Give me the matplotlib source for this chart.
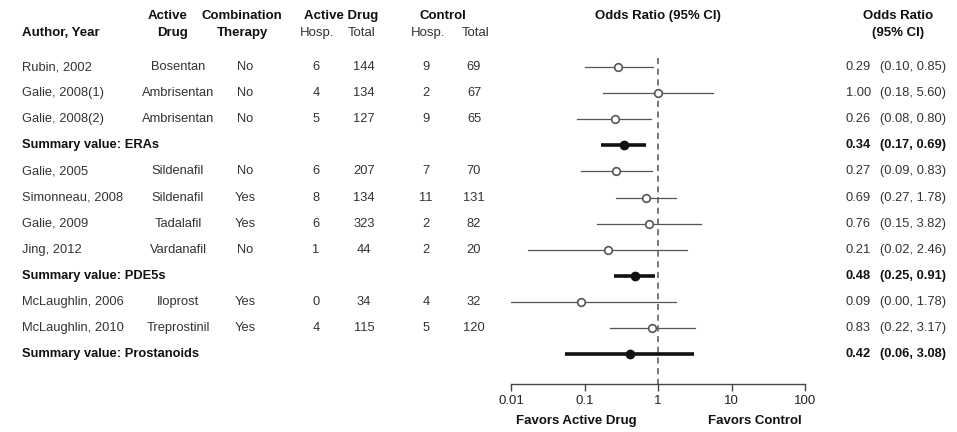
import matplotlib
matplotlib.use("Agg")
import matplotlib.pyplot as plt
from matplotlib.transforms import blended_transform_factory

plt.rcParams["font.family"] = ["Liberation Sans", "DejaVu Sans"]

# --- data ---
studies = ["Rubin, 2002", "Galie, 2008(1)", "Galie, 2008(2)", "Summary value: ERAs",
           "Galie, 2005", "Simonneau, 2008", "Galie, 2009", "Jing, 2012",
           "Summary value: PDE5s", "McLaughlin, 2006", "McLaughlin, 2010",
           "Summary value: Prostanoids"]
is_summary = [False, False, False, True, False, False, False, False, True, False, False, True]
drugs = ["Bosentan", "Ambrisentan", "Ambrisentan", "", "Sildenafil", "Sildenafil",
         "Tadalafil", "Vardanafil", "", "Iloprost", "Treprostinil", ""]
combo = ["No", "No", "No", "", "No", "Yes", "Yes", "No", "", "Yes", "Yes", ""]
act_hosp = ["6", "4", "5", "", "6", "8", "6", "1", "", "0", "4", ""]
act_total = ["144", "134", "127", "", "207", "134", "323", "44", "", "34", "115", ""]
ctl_hosp = ["9", "2", "9", "", "7", "11", "2", "2", "", "4", "5", ""]
ctl_total = ["69", "67", "65", "", "70", "131", "82", "20", "", "32", "120", ""]

odds = [0.29, 1.00, 0.26, 0.34, 0.27, 0.69, 0.76, 0.21, 0.48, 0.09, 0.83, 0.42]
ci_low = [0.10, 0.18, 0.08, 0.17, 0.09, 0.27, 0.15, 0.02, 0.25, 0.00, 0.22, 0.06]
ci_high = [0.85, 5.60, 0.80, 0.69, 0.83, 1.78, 3.82, 2.46, 0.91, 1.78, 3.17, 3.08]
# lower whisker as drawn (0.00 cannot sit on a log axis)
ci_low_drawn = [0.10, 0.18, 0.08, 0.17, 0.09, 0.27, 0.15, 0.017, 0.25, 0.0065, 0.22, 0.055]

xticks = [0.01, 0.1, 1, 10, 100]
xtick_labels = ["0.01", "0.1", "1", "10", "100"]

W, H = 957, 432
fig = plt.figure(figsize=(W / 100, H / 100), dpi=100)

# forest panel: 0.01 at x=511px, 100 at x=805px, axis line at y=384px
row_top, row_step = 67, 26.1
y_top_px, y_bot_px = 40, 384
ax = fig.add_axes([511 / W, 1 - y_bot_px / H, (805 - 511) / W, (y_bot_px - y_top_px) / H])
ax.set_xscale("log")
ax.set_xlim(0.01, 100)
ax.set_ylim((y_bot_px - row_top) / row_step, (y_top_px - row_top) / row_step)
for s in ["top", "right", "left"]:
    ax.spines[s].set_visible(False)
ax.spines["bottom"].set_color("#444444")
ax.spines["bottom"].set_linewidth(1.0)
ax.set_yticks([])
ax.set_xticks(xticks)
ax.set_xticklabels(xtick_labels, fontsize=9.5, color="#222222")
ax.minorticks_off()
ax.tick_params(axis="x", direction="out", length=5, width=1.0, color="#444444", pad=3)
ax.patch.set_alpha(0)

ax.vlines(1, (58 - row_top) / row_step, (y_bot_px - row_top) / row_step,
          colors="#555555", linestyles=(0, (4, 3)), linewidth=1.1, zorder=1)

rows = list(range(len(studies)))
for i in rows:
    if is_summary[i]:
        ax.plot([ci_low_drawn[i], ci_high[i]], [i, i], color="#111111", lw=2.6,
                solid_capstyle="butt", zorder=2)
        ax.plot(odds[i], i, "o", ms=6, color="#111111", zorder=3)
    else:
        ax.plot([ci_low_drawn[i], ci_high[i]], [i, i], color="#555555", lw=0.9, zorder=2)
        ax.plot(odds[i], i, "o", ms=5.5, mfc="white", mec="#555555", mew=1.2, zorder=3)

# table text: x in figure pixels, y in row units
tr = blended_transform_factory(fig.transFigure, ax.transData)
fx = lambda px: px / W
txt = "#333333"
fs = 9.3
for i in rows:
    if is_summary[i]:
        ax.text(fx(22), i, studies[i], transform=tr, ha="left", va="center",
                fontsize=fs, fontweight="bold", color="#111111", clip_on=False)
        ax.text(fx(846), i, f"{odds[i]:.2f}", transform=tr, ha="left", va="center",
                fontsize=fs, fontweight="bold", color="#111111", clip_on=False)
        ax.text(fx(880), i, f"({ci_low[i]:.2f}, {ci_high[i]:.2f})", transform=tr,
                ha="left", va="center", fontsize=fs, fontweight="bold",
                color="#111111", clip_on=False)
        continue
    ax.text(fx(22), i, studies[i], transform=tr, ha="left", va="center",
            fontsize=fs, color=txt, clip_on=False)
    ax.text(fx(178), i, drugs[i], transform=tr, ha="center", va="center",
            fontsize=fs, color=txt, clip_on=False)
    ax.text(fx(245), i, combo[i], transform=tr, ha="center", va="center",
            fontsize=fs, color=txt, clip_on=False)
    ax.text(fx(316), i, act_hosp[i], transform=tr, ha="center", va="center",
            fontsize=fs, color=txt, clip_on=False)
    ax.text(fx(364), i, act_total[i], transform=tr, ha="center", va="center",
            fontsize=fs, color=txt, clip_on=False)
    ax.text(fx(426), i, ctl_hosp[i], transform=tr, ha="center", va="center",
            fontsize=fs, color=txt, clip_on=False)
    ax.text(fx(474), i, ctl_total[i], transform=tr, ha="center", va="center",
            fontsize=fs, color=txt, clip_on=False)
    ax.text(fx(846), i, f"{odds[i]:.2f}", transform=tr, ha="left", va="center",
            fontsize=fs, color=txt, clip_on=False)
    ax.text(fx(880), i, f"({ci_low[i]:.2f}, {ci_high[i]:.2f})", transform=tr,
            ha="left", va="center", fontsize=fs, color=txt, clip_on=False)

# headers
def head(px, py, s, bold=True, ha="center"):
    fig.text(px / W, 1 - py / H, s, ha=ha, va="center", fontsize=9.5,
             fontweight="bold" if bold else "normal",
             color="#111111" if bold else txt)

head(22, 33, "Author, Year", ha="left")
head(168, 16, "Active")
head(172, 33, "Drug")
head(242, 16, "Combination")
head(243, 33, "Therapy")
head(341, 16, "Active Drug")
head(317, 33, "Hosp.", bold=False)
head(362, 33, "Total", bold=False)
head(443, 16, "Control")
head(428, 33, "Hosp.", bold=False)
head(476, 33, "Total", bold=False)
head(658, 16, "Odds Ratio (95% CI)")
head(898, 16, "Odds Ratio")
head(898, 33, "(95% CI)")
head(576, 421, "Favors Active Drug")
head(755, 421, "Favors Control")

fig.savefig("out.png", dpi=100)
